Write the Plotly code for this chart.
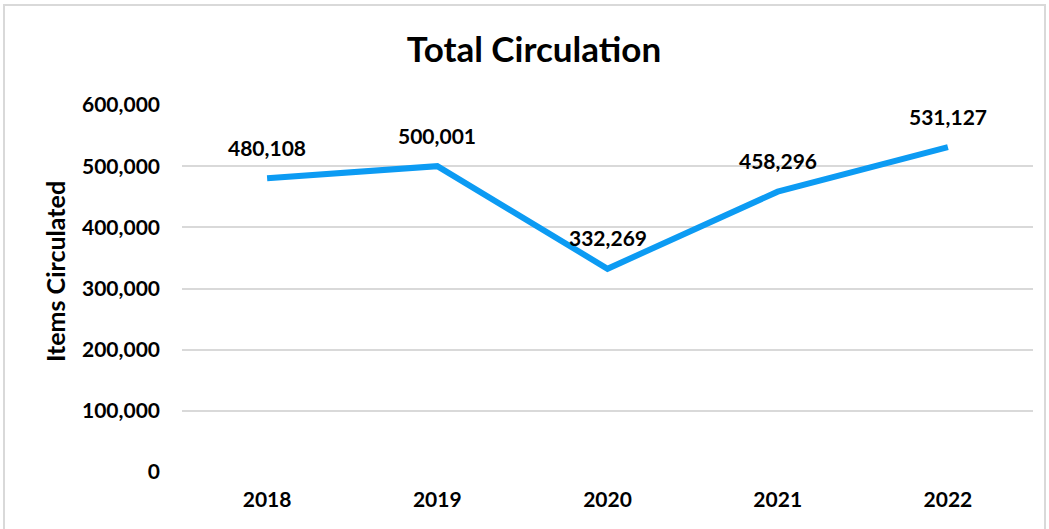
import plotly.graph_objects as go

years = ["2018", "2019", "2020", "2021", "2022"]
circulation = [480108, 500001, 332269, 458296, 531127]
y_ticks = [0, 100000, 200000, 300000, 400000, 500000, 600000]
y_tick_labels = ["0", "100,000", "200,000", "300,000", "400,000", "500,000", "600,000"]

FONT = "Lato"
W, H = 1049, 529
L, R, T, B = 182, 16, 105, 57

fig = go.Figure()
fig.add_trace(go.Scatter(
    x=years, y=circulation, mode="lines",
    line=dict(color="#0C9BF3", width=6),
    hoverinfo="skip",
))

# data labels: category axis addressed by index (numeric-looking names would be read as indices)
for i, v in enumerate(circulation):
    fig.add_annotation(x=i, y=v, xref="x", yref="y", text=f"<b>{v:,}</b>", showarrow=False, yshift=31,
                       font=dict(family=FONT, size=21, color="#000000"))

pw = W - L - R
ph = H - T - B

# y-axis title
fig.add_annotation(x=(55 - L) / pw, y=(H - B - 271) / ph, xref="paper", yref="paper",
                   text="<b>Items Circulated</b>", textangle=-90, showarrow=False,
                   xanchor="center", yanchor="middle",
                   font=dict(family=FONT, size=25, color="#000000"))

# outer chart border
x0 = (4 - L) / pw
x1 = (W - 4 - L) / pw
y1 = (H - B - 5) / ph
y0 = (H - B - (H + 10)) / ph
fig.add_shape(type="rect", xref="paper", yref="paper", x0=x0, x1=x1, y0=y0, y1=y1,
              line=dict(color="#D9D9D9", width=2), layer="below")

fig.update_layout(
    width=W, height=H,
    margin=dict(l=L, r=R, t=T, b=B),
    paper_bgcolor="white", plot_bgcolor="white",
    showlegend=False,
    title=dict(text="<b>Total Circulation</b>", x=534 / W, xanchor="center", y=1 - 50 / H, yanchor="middle",
               font=dict(family=FONT, size=35, color="#000000")),
    font=dict(family=FONT, color="#000000"),
)
fig.update_xaxes(type="category", categoryorder="array", categoryarray=years,
                 range=[-0.5, len(years) - 0.5], autorange=False,
                 showgrid=False, showline=False, zeroline=False, ticks="",
                 ticklabelstandoff=13,
                 tickfont=dict(family=FONT, size=21, color="#000000", weight="bold"))
fig.update_yaxes(range=[0, 600000], autorange=False, tickvals=y_ticks, ticktext=y_tick_labels,
                 showgrid=True, gridcolor="#D9D9D9", gridwidth=1.5, zeroline=False,
                 showline=False, ticks="", ticklabelstandoff=21,
                 tickfont=dict(family=FONT, size=21, color="#000000", weight="bold"))

fig.write_html("out.html", config={"displayModeBar": False},
               post_script="document.body.style.margin='0';")
